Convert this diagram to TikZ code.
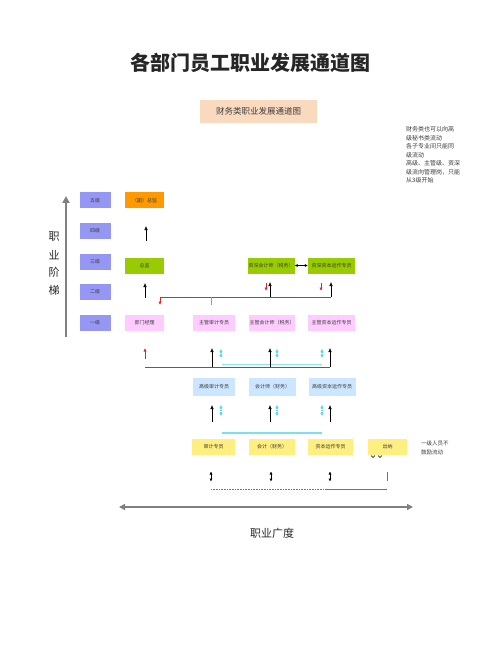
\documentclass[tikz,border=0pt]{standalone}
\usepackage{fontspec}
\setmainfont{Noto Sans CJK SC}
\usetikzlibrary{arrows.meta}
\definecolor{lvlc}{RGB}{150,150,245}
\definecolor{orgc}{RGB}{255,153,0}
\definecolor{grnc}{RGB}{153,204,0}
\definecolor{pnkc}{RGB}{255,204,255}
\definecolor{bluc}{RGB}{204,230,255}
\definecolor{yelc}{RGB}{255,238,128}
\definecolor{pchc}{RGB}{250,218,190}
\definecolor{cyac}{RGB}{90,215,235}
\definecolor{redc}{RGB}{220,40,40}
\definecolor{txtc}{RGB}{60,60,60}
\tikzset{
  bx/.style={minimum width=#1, minimum height=16, inner sep=0, text=txtc,
             font=\fontsize{5}{6}\selectfont},
  lvl/.style={bx=31, fill=lvlc},
  orgbox/.style={bx=39, fill=orgc},
  grnbox/.style={bx=47, fill=grnc},
  pnkbox/.style={bx=46, fill=pnkc},
  blubox/.style={bx=47, fill=bluc},
  yelbox/.style={bx=46, fill=yelc},
  upar/.style={-{Latex[length=4pt,width=3.6pt]}, line width=0.6pt, black},
  rdar/.style={-{Latex[length=3.5pt,width=3.2pt]}, line width=0.6pt, redc},
  cyar/.style={{Latex[length=3pt,width=3.4pt]}-{Latex[length=3pt,width=3.4pt]}, line width=1.3pt, cyac, dash pattern=on 1.2pt off 1pt},
  bkdbl/.style={{Latex[length=3pt,width=3.2pt]}-{Latex[length=3pt,width=3.2pt]}, line width=0.6pt, black},
}
\begin{document}
\begin{tikzpicture}[x=1pt,y=-1pt]
\useasboundingbox[fill=white] (0,0) rectangle (500,652);

% titles
\node[font=\fontsize{20}{22}\selectfont\bfseries, text=black!85] (title) at (250,63) {各部门员工职业发展通道图};
\node[fill=pchc, minimum width=117, minimum height=23, inner sep=0,
      font=\fontsize{8.5}{10}\selectfont, text=txtc] (sub) at (258.5,111.5) {财务类职业发展通道图};

% notes
\node[anchor=north west, align=left, inner sep=0, text=txtc,
      font=\fontsize{6}{8.5}\selectfont] (note) at (406,126.5)
  {财务类也可以向高\\级秘书类流动\\各子专业间只能同\\级流动\\高级、主管级、资深\\级流向管理岗，只能\\从3级开始};

% vertical axis
\coordinate (vb) at (66,337);
\coordinate (vt) at (66,196);
\draw[-{Triangle[length=7pt,width=7pt]}, line width=2.5pt, black!50] (vb) -- (vt);
\node[font=\fontsize{11}{12}\selectfont, text=black!85] (z1) at (54,237) {职};
\node[font=\fontsize{11}{12}\selectfont, text=black!85] (z2) at (54,255) {业};
\node[font=\fontsize{11}{12}\selectfont, text=black!85] (z3) at (54,272) {阶};
\node[font=\fontsize{11}{12}\selectfont, text=black!85] (z4) at (54,290) {梯};

% levels
\node[lvl] (l5) at (95,200.5) {五级};
\node[lvl] (l4) at (95,231) {四级};
\node[lvl] (l3) at (95,262) {三级};
\node[lvl] (l2) at (95,291.5) {二级};
\node[lvl] (l1) at (95,323) {一级};

% management column
\node[orgbox] (fz) at (144.5,200.5) {（副）总监};
\node[grnbox, minimum width=39] (zj) at (144.5,266) {总监};
\node[pnkbox, minimum width=39] (jl) at (144.5,323) {部门经理};
\coordinate (a4b) at (146,241); \coordinate (a4t) at (146,226);
\draw[upar] (a4b) -- (a4t);
\coordinate (a2b) at (145,298); \coordinate (a2t) at (145,283);
\draw[upar] (a2b) -- (a2t);

% senior green
\node[grnbox] (zs1) at (271,265.5) {资深会计师（税务）};
\node[grnbox] (zs2) at (331.5,265.5) {资深资本运作专员};
\draw[bkdbl] (zs1) -- (zs2);

% supervisor pink
\node[pnkbox, minimum width=42] (zg1) at (214,322.5) {主管审计专员};
\node[pnkbox] (zg2) at (272,322.5) {主管会计师（税务）};
\node[pnkbox, minimum width=47] (zg3) at (331.5,322.5) {主管资本运作专员};

% red connector to manager
\coordinate (r1) at (160,297);
\coordinate (r2) at (331,297);
\coordinate (rd) at (160,305);
\draw[redc, line width=0.7pt] (r2) -- (r1);
\draw[rdar] (r1) -- (rd);
\coordinate (g1) at (211,297); \coordinate (g2) at (211,305);
\draw[black!40, line width=0.6pt] (g1) -- (g2);
\coordinate (b1t) at (270,282); \coordinate (b1b) at (270,297);
\draw[upar] (b1b) -- (b1t);
\coordinate (b2t) at (331,282);
\draw[upar] (r2) -- (b2t);
\coordinate (rs1) at (266,283); \coordinate (rs1b) at (266,291);
\draw[rdar] (rs1) -- (rs1b);
\coordinate (rs2) at (321,283); \coordinate (rs2b) at (321,291);
\draw[rdar] (rs2) -- (rs2b);

% row between supervisor and senior-level
\coordinate (ru1) at (145,359); \coordinate (ru2) at (145,348);
\draw[rdar] (ru1) -- (ru2);
\coordinate (rl1) at (145,367); \coordinate (rl2) at (330,367);
\draw[redc, line width=0.8pt] (rl1) -- (rl2);
\coordinate (cl1) at (222,364.5); \coordinate (cl2) at (322,364.5);
\draw[cyac!70, line width=1.6pt] (cl1) -- (cl2);
\foreach \xx/\nm in {212/u1,270/u2,330/u3} {
  \coordinate (\nm b) at (\xx,367); \coordinate (\nm t) at (\xx,348);
  \draw[upar] (\nm b) -- (\nm t);
}
\foreach \xx/\nm in {221/c1,277/c2,322/c3} {
  \coordinate (\nm t) at (\xx,349); \coordinate (\nm b) at (\xx,358);
  \draw[cyar] (\nm t) -- (\nm b);
}

% advanced blue
\node[blubox, minimum width=42, minimum height=18] (gj1) at (214,387) {高级审计专员};
\node[blubox, minimum height=18] (gj2) at (272.5,387) {会计师（财务）};
\node[blubox, minimum height=18] (gj3) at (332,387) {高级资本运作专员};
\foreach \xx/\nm in {212/v1,270/v2,330/v3} {
  \coordinate (\nm b) at (\xx,422); \coordinate (\nm t) at (\xx,405);
  \draw[upar] (\nm b) -- (\nm t);
}
\foreach \xx/\nm in {221/d1,277/d2,322/d3} {
  \coordinate (\nm t) at (\xx,405); \coordinate (\nm b) at (\xx,416);
  \draw[cyar] (\nm t) -- (\nm b);
}
\coordinate (cm1) at (222,433); \coordinate (cm2) at (322,433);
\draw[cyac!80, line width=1.3pt] (cm1) -- (cm2);

% entry yellow
\node[yelbox, minimum width=43] (e1) at (213.5,447) {审计专员};
\node[yelbox] (e2) at (272,447) {会计（财务）};
\node[yelbox, minimum width=45] (e3) at (330.5,447) {资本运作专员};
\node[yelbox, minimum width=39] (e4) at (387.5,447) {出纳};
\node[anchor=north west, align=left, inner sep=0, text=txtc,
      font=\fontsize{5.5}{9}\selectfont] (note2) at (421,440.5) {一级人员不\\鼓励流动};
\coordinate (k1a) at (371,455.5); \coordinate (k1b) at (373,457.5); \coordinate (k1c) at (375,455.5);
\draw[black, line width=0.6pt] (k1a) -- (k1b) -- (k1c);
\coordinate (k2a) at (378,455.5); \coordinate (k2b) at (380,457.5); \coordinate (k2c) at (382,455.5);
\draw[black, line width=0.6pt] (k2a) -- (k2b) -- (k2c);

\foreach \xx/\nm in {211/w1,271/w2,330/w3} {
  \coordinate (\nm t) at (\xx,471.5); \coordinate (\nm b) at (\xx,481.5);
  \draw[bkdbl] (\nm t) -- (\nm b);
}
\coordinate (gv1) at (387,472); \coordinate (gv2) at (387,481);
\draw[black!55, line width=0.8pt] (gv1) -- (gv2);
\coordinate (dl1) at (211,489); \coordinate (dl2) at (327,489); \coordinate (dl3) at (387,489);
\draw[black!55, line width=0.7pt, dash pattern=on 0.8pt off 0.8pt] (dl1) -- (dl2);
\draw[black!55, line width=0.8pt] (dl2) -- (dl3);

% horizontal axis
\coordinate (hl) at (119,507); \coordinate (hr) at (413,507);
\draw[{Triangle[length=6pt,width=6pt]}-{Triangle[length=6pt,width=6pt]}, line width=2pt, black!50] (hl) -- (hr);
\node[font=\fontsize{11}{12}\selectfont, text=black!85] (hlab) at (272,533) {职业广度};
\end{tikzpicture}
\end{document}
